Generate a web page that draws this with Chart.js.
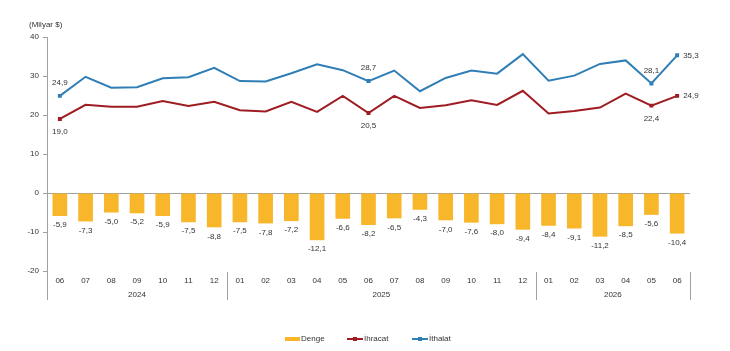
<!DOCTYPE html>
<html>
<head>
<meta charset="utf-8">
<script src="https://cdn.jsdelivr.net/npm/chart.js@4.4.0/dist/chart.umd.min.js"></script>
<style>
  html, body { margin: 0; padding: 0; background: #fff; }
</style>
</head>
<body>
<canvas id="dengeChart" width="730" height="351"></canvas>
<script>
// aylar (yyyy-aa)
const categories = [
  '2024-06', '2024-07', '2024-08', '2024-09', '2024-10', '2024-11', '2024-12',
  '2025-01', '2025-02', '2025-03', '2025-04', '2025-05', '2025-06', '2025-07',
  '2025-08', '2025-09', '2025-10', '2025-11', '2025-12',
  '2026-01', '2026-02', '2026-03', '2026-04', '2026-05', '2026-06'
];
const denge = [-5.9, -7.3, -5.0, -5.2, -5.9, -7.5, -8.8, -7.5, -7.8, -7.2, -12.1, -6.6, -8.2, -6.5,
  -4.3, -7.0, -7.6, -8.0, -9.4, -8.4, -9.1, -11.2, -8.5, -5.6, -10.4];
const ihracat = [19.0, 22.6, 22.1, 22.1, 23.6, 22.3, 23.4, 21.2, 20.9, 23.4, 20.8, 24.9, 20.5, 24.9,
  21.8, 22.5, 23.8, 22.6, 26.2, 20.4, 21.0, 21.9, 25.5, 22.4, 24.9];
const ithalat = [24.9, 29.8, 27.0, 27.1, 29.4, 29.7, 32.1, 28.7, 28.6, 30.7, 33.0, 31.5, 28.7, 31.4,
  26.1, 29.5, 31.4, 30.6, 35.6, 28.8, 30.1, 33.1, 34.0, 28.1, 35.3];

// etiket gösterilen noktalar
const ihracatLabels = { 0: 'below', 12: 'below', 23: 'below', 24: 'right' };
const ithalatLabels = { 0: 'above', 12: 'above', 23: 'above', 24: 'right' };

const YELLOW = '#F8B62A';
const RED = '#9E1C22';
const BLUE = '#2F7EB6';
const TEXT = '#333333';
const AXIS = '#a0a0a0';
const FONT = '8px "Liberation Sans", Arial, sans-serif';

const fmt = v => v.toFixed(1).replace('.', ',');
const monthOf = c => c.split('-')[1];
const yearOf = c => c.split('-')[0];

const labelPlugin = {
  id: 'labels',
  afterDatasetsDraw(chart) {
    const ctx = chart.ctx;
    ctx.save();
    ctx.font = FONT;
    ctx.fillStyle = TEXT;
    ctx.textBaseline = 'middle';

    // bar labels
    chart.getDatasetMeta(0).data.forEach((bar, i) => {
      ctx.textAlign = 'center';
      ctx.fillText(fmt(denge[i]), bar.x, bar.y + 9);
    });

    // line labels
    [[1, ihracat, ihracatLabels], [2, ithalat, ithalatLabels]].forEach(([di, vals, pos]) => {
      const meta = chart.getDatasetMeta(di);
      Object.keys(pos).forEach(k => {
        const p = meta.data[k];
        const where = pos[k];
        if (where === 'right') {
          ctx.textAlign = 'left';
          ctx.fillText(fmt(vals[k]), p.x + 6, p.y);
        } else if (where === 'above') {
          ctx.textAlign = 'center';
          ctx.fillText(fmt(vals[k]), p.x, p.y - 13);
        } else {
          ctx.textAlign = 'center';
          ctx.fillText(fmt(vals[k]), p.x, p.y + 13);
        }
      });
    });
    ctx.restore();
  },
  afterDraw(chart) {
    const ctx = chart.ctx;
    const area = chart.chartArea;
    const x = chart.scales.x;
    ctx.save();
    ctx.font = FONT;
    ctx.fillStyle = TEXT;
    ctx.textBaseline = 'middle';

    // unit
    ctx.textAlign = 'left';
    ctx.fillText('(Milyar $)', 29, 25);

    // axis extension + year separators
    ctx.strokeStyle = AXIS;
    ctx.lineWidth = 1;
    const step = x.getPixelForValue(1) - x.getPixelForValue(0);
    const bottom = area.bottom + 29;
    ctx.beginPath();
    ctx.moveTo(area.left + 0.5, area.bottom);
    ctx.lineTo(area.left + 0.5, bottom);
    ctx.stroke();

    const years = [...new Set(categories.map(yearOf))];
    years.forEach(y => {
      const idx = categories.map((c, i) => yearOf(c) === y ? i : -1).filter(i => i >= 0);
      const first = idx[0], last = idx[idx.length - 1];
      const cx = (x.getPixelForValue(first) + x.getPixelForValue(last)) / 2;
      ctx.textAlign = 'center';
      ctx.fillText(y, cx, area.bottom + 24);
      const sx = Math.round(x.getPixelForValue(last) + step / 2) + 0.5;
      ctx.beginPath();
      ctx.moveTo(sx, area.bottom + 1);
      ctx.lineTo(sx, bottom);
      ctx.stroke();
    });

    // legend
    const ly = 339;
    ctx.fillStyle = YELLOW;
    ctx.fillRect(285, ly - 2, 15, 4);
    ctx.fillStyle = TEXT;
    ctx.textAlign = 'left';
    ctx.fillText('Denge', 301, ly);

    [[RED, 347, 'İhracat'], [BLUE, 412, 'İthalat']].forEach(([col, lx, txt]) => {
      ctx.strokeStyle = col;
      ctx.lineWidth = 2;
      ctx.beginPath();
      ctx.moveTo(lx, ly);
      ctx.lineTo(lx + 16, ly);
      ctx.stroke();
      ctx.fillStyle = col;
      ctx.fillRect(lx + 6, ly - 2, 4, 4);
      ctx.fillStyle = TEXT;
      ctx.fillText(txt, lx + 17, ly);
    });
    ctx.restore();
  }
};

const pointSize = pos => c => (pos[c.dataIndex] ? 2.8 : 0);

new Chart(document.getElementById('dengeChart'), {
  data: {
    labels: categories.map(monthOf),
    datasets: [
      {
        type: 'bar',
        label: 'Denge',
        data: denge,
        backgroundColor: YELLOW,
        barPercentage: 0.57,
        categoryPercentage: 1,
        order: 3
      },
      {
        type: 'line',
        label: 'İhracat',
        data: ihracat,
        borderColor: RED,
        backgroundColor: RED,
        borderWidth: 2,
        tension: 0,
        pointStyle: 'rect',
        pointRadius: pointSize(ihracatLabels),
        pointBorderWidth: 0,
        pointHoverRadius: 0,
        order: 2
      },
      {
        type: 'line',
        label: 'İthalat',
        data: ithalat,
        borderColor: BLUE,
        backgroundColor: BLUE,
        borderWidth: 2,
        tension: 0,
        pointStyle: 'rect',
        pointRadius: pointSize(ithalatLabels),
        pointBorderWidth: 0,
        pointHoverRadius: 0,
        order: 1
      }
    ]
  },
  options: {
    responsive: false,
    animation: false,
    devicePixelRatio: 1,
    layout: { padding: { top: 37, right: 40, left: 0, bottom: 0 } },
    plugins: {
      legend: { display: false },
      tooltip: { enabled: false }
    },
    scales: {
      x: {
        grid: { display: false, drawTicks: false },
        border: { display: false },
        ticks: {
          color: TEXT,
          font: { size: 8, family: '"Liberation Sans", Arial, sans-serif' },
          maxRotation: 0,
          autoSkip: false,
          padding: 5
        },
        afterFit: s => { s.height = 80; }
      },
      y: {
        min: -20,
        max: 40,
        ticks: {
          stepSize: 10,
          color: TEXT,
          font: { size: 8, family: '"Liberation Sans", Arial, sans-serif' },
          padding: 4
        },
        grid: {
          color: c => (c.tick && c.tick.value === 0 ? AXIS : 'rgba(0,0,0,0)'),
          tickColor: AXIS,
          tickLength: 4
        },
        border: { color: AXIS },
        afterFit: s => { s.width = 47; }
      }
    }
  },
  plugins: [labelPlugin]
});
</script>
</body>
</html>
